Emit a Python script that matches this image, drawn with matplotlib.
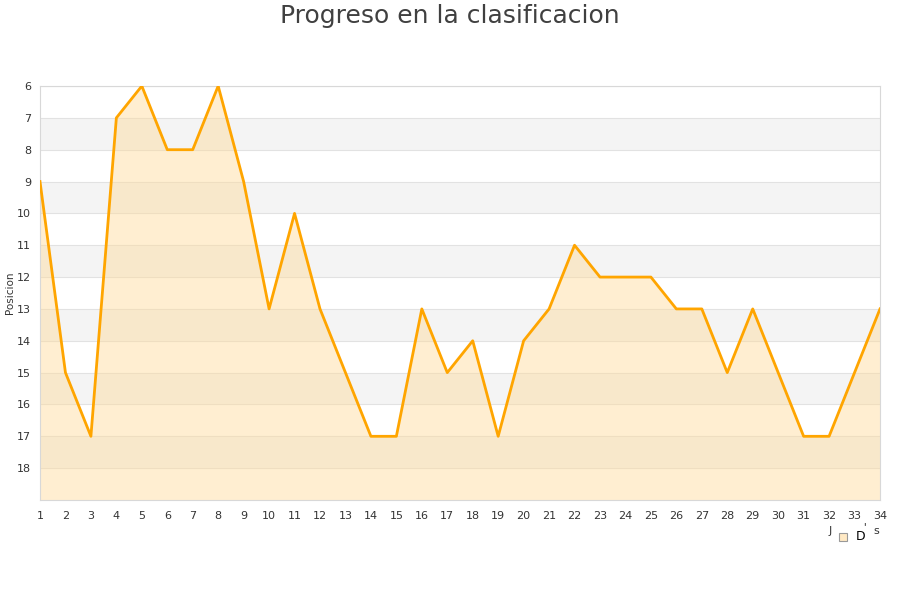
import matplotlib
matplotlib.use("Agg")
import matplotlib.pyplot as plt
from matplotlib.patches import Rectangle

# ---------- Data ----------
jornadas = list(range(1, 35))
posicion = [9, 15, 17, 7, 6, 8, 8, 6, 9, 13, 10, 13, 15, 17, 17, 13, 15, 14, 17,
            14, 13, 11, 12, 12, 12, 13, 13, 15, 13, 15, 17, 17, 15, 13]
y_ticks = list(range(6, 19))
y_top, y_bottom = 6, 19
# --------------------------

fig = plt.figure(figsize=(9, 6), dpi=100)
ax = fig.add_axes([40 / 900, 100 / 600, 840 / 900, 414 / 600])

# alternating bands
for y in range(y_top, y_bottom):
    if (y - y_top) % 2 == 1:
        ax.axhspan(y, y + 1, color="#f4f4f4", zorder=0, lw=0)
for y in y_ticks:
    ax.axhline(y, color="#e2e2e2", lw=0.8, zorder=1)

ax.fill_between(jornadas, posicion, y_bottom, color="#ffdb99", alpha=0.45,
                lw=0, zorder=2)
ax.plot(jornadas, posicion, color="#ffa500", lw=2, zorder=3)

ax.set_xlim(1, 34)
ax.set_ylim(y_bottom, y_top)
ax.set_xticks(jornadas)
ax.set_yticks(y_ticks)
ax.tick_params(axis="both", length=0, labelsize=8, colors="#333333")
ax.tick_params(axis="x", pad=8)
ax.tick_params(axis="y", pad=6.5)
for s in ax.spines.values():
    s.set_color("#d8d8d8")

fig.text(10 / 900, 1 - 293 / 600, "Posicion", rotation=90, fontsize=7.5,
         color="#333333", ha="center", va="center")

fig.text(0.5, 1 - 16 / 600, "Progreso en la clasificacion", ha="center",
         va="center", fontsize=18, color="#404040")

# legend remnants at bottom right
fig.text(830 / 900, 1 - 531 / 600, "J", fontsize=8, color="#333333",
         ha="center", va="center")
fig.patches.append(Rectangle((839 / 900, 1 - 541 / 600), 8 / 900, 8 / 600,
                             transform=fig.transFigure, facecolor="#ffe9c4",
                             edgecolor="#999999", lw=0.8))
fig.text(861 / 900, 1 - 537 / 600, "D", fontsize=9, color="#000000",
         ha="center", va="center")
fig.text(864 / 900, 1 - 527 / 600, "'", fontsize=7, color="#000000",
         ha="center", va="center")
fig.text(876 / 900, 1 - 531 / 600, "s", fontsize=8, color="#333333",
         ha="center", va="center")

fig.savefig("out.png", dpi=100)
